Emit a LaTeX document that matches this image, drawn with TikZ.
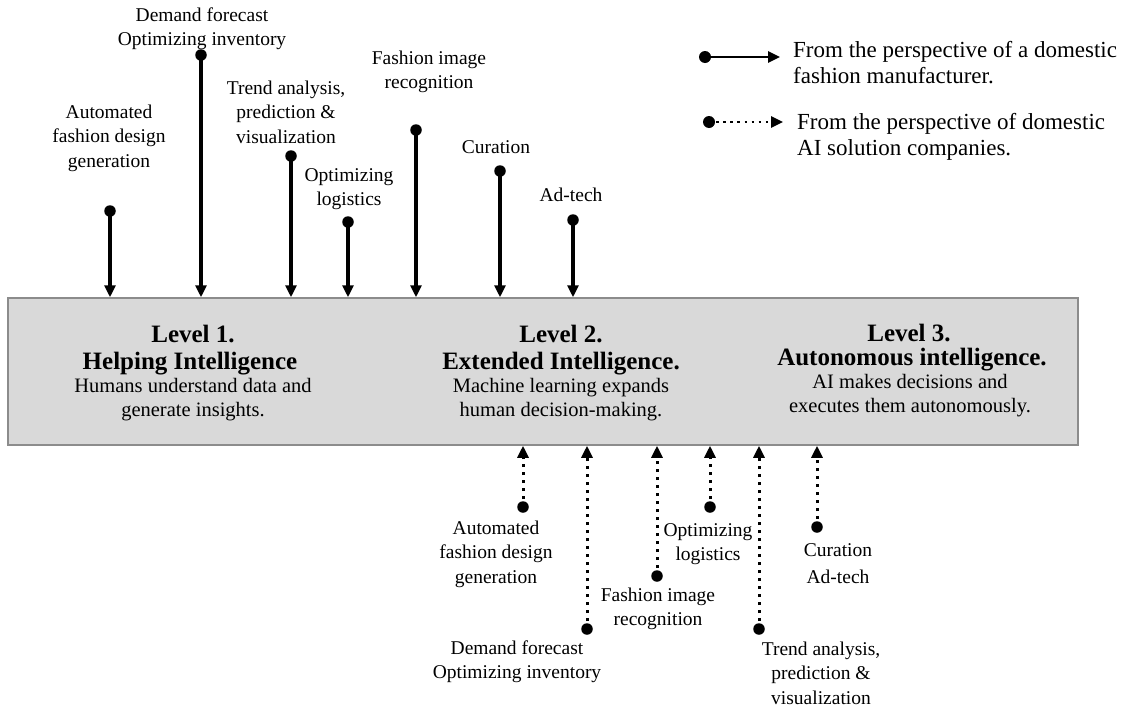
\documentclass[tikz,border=0pt]{standalone}
\usepackage{fontspec}
\setmainfont{Liberation Serif}
\usetikzlibrary{arrows.meta}
\definecolor{boxfill}{HTML}{D9D9D9}
\definecolor{boxedge}{HTML}{8C8C8C}
\begin{document}
\begin{tikzpicture}[x=1pt,y=-1pt,
  lbl/.style={font=\fontsize{19.5}{24.5}\selectfont, align=center, anchor=base, inner sep=0pt},
  hd/.style={font=\fontsize{25}{28}\selectfont\bfseries, align=center, anchor=base, inner sep=0pt},
  bd/.style={font=\fontsize{20.5}{24.5}\selectfont, align=center, anchor=base, inner sep=0pt},
  lg/.style={font=\fontsize{23}{26}\selectfont, align=left, anchor=base west, inner sep=0pt},
  dot/.style={circle, fill=black, inner sep=0pt, minimum size=11.5pt},
  solidarr/.style={line width=3.2pt, -{Triangle[width=11pt,length=12pt]}},
  dotarr/.style={line width=3pt, dash pattern=on 3pt off 5pt, -{Triangle[width=11pt,length=12pt]}},
]
\useasboundingbox (0,0) rectangle (1122,707);

% main box
\node[draw=boxedge, fill=boxfill, line width=1.5pt, minimum width=1070pt, minimum height=147pt, inner sep=0pt] (box) at (543,371.5) {};

% level texts (base = baseline of last line)
\node[hd] (l1a) at (193,342) {Level 1.};
\node[hd] (l1b) at (190,369) {Helping Intelligence};
\node[bd] (l1c) at (193,416.5) {Humans understand data and\\generate insights.};
\node[hd] (l2a) at (561,342) {Level 2.};
\node[hd] (l2b) at (561,369) {Extended Intelligence.};
\node[bd] (l2c) at (561,416.5) {Machine learning expands\\human decision-making.};
\node[hd] (l3a) at (909,341) {Level 3.};
\node[hd] (l3b) at (912,365) {Autonomous intelligence.};
\node[bd] (l3c) at (910,412.5) {AI makes decisions and\\executes them autonomously.};

% top (manufacturer) arrows
\node[dot] (t1) at (110,211) {};
\node[dot] (t2) at (201,55) {};
\node[dot] (t3) at (291,156) {};
\node[dot] (t4) at (348,222) {};
\node[dot] (t5) at (416,130) {};
\node[dot] (t6) at (500,171) {};
\node[dot] (t7) at (573,220) {};
\foreach \n in {t1,t2,t3,t4,t5,t6,t7}
  \draw[solidarr] (\n.center) -- (\n.center |- box.north);

\node[lbl] (tl1) at (109,167) {Automated\\fashion design\\generation};
\node[lbl] (tl2) at (202,45.5) {Demand forecast\\Optimizing inventory};
\node[lbl] (tl3) at (286,143) {Trend analysis,\\prediction \&\\visualization};
\node[lbl] (tl4) at (349,205.5) {Optimizing\\logistics};
\node[lbl] (tl5) at (429,88.5) {Fashion image\\recognition};
\node[lbl] (tl6) at (496,153) {Curation};
\node[lbl] (tl7) at (571,201) {Ad-tech};

% bottom (AI solution companies) arrows
\node[dot] (b1) at (523,507) {};
\node[dot] (b2) at (587,629) {};
\node[dot] (b3) at (657,576) {};
\node[dot] (b4) at (710,507) {};
\node[dot] (b5) at (759,629) {};
\node[dot] (b6) at (817,527) {};
\foreach \n in {b1,b2,b3,b4,b5,b6}
  \draw[dotarr] (\n.center) -- (\n.center |- box.south);

\node[lbl] (bl1) at (496,583) {Automated\\fashion design\\generation};
\node[lbl] (bl2) at (517,678.5) {Demand forecast\\Optimizing inventory};
\node[lbl] (bl3) at (658,625.5) {Fashion image\\recognition};
\node[lbl] (bl4) at (708,560.5) {Optimizing\\logistics};
\node[lbl, font=\fontsize{19.5}{27.5}\selectfont] (bl5) at (838,583.5) {Curation\\Ad-tech};
\node[lbl] (bl6) at (821,704) {Trend analysis,\\prediction \&\\visualization};

% legend
\node[dot, minimum size=12pt] (ls) at (705,57) {};
\coordinate (le) at (780,57);
\draw[solidarr, line width=2.5pt] (ls.center) -- (le);
\node[lg] (lt1) at (793,83) {From the perspective of a domestic\\fashion manufacturer.};
\node[dot, minimum size=12pt] (ld) at (709,122) {};
\coordinate (lde) at (783,122);
\draw[dotarr, line width=2.6pt, dash pattern=on 2.6pt off 4.5pt] (ld.center) -- (lde);
\node[lg] (lt2) at (797,155) {From the perspective of domestic\\AI solution companies.};
\end{tikzpicture}
\end{document}
